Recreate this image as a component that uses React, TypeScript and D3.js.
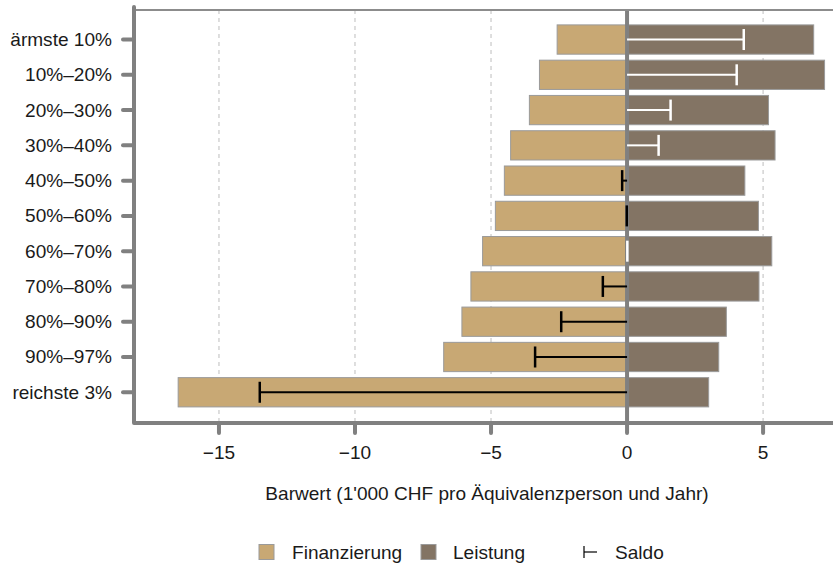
import { useEffect, useRef } from 'react';
import * as d3 from 'd3';

const categories = [
  'ärmste 10%',
  '10%–20%',
  '20%–30%',
  '30%–40%',
  '40%–50%',
  '50%–60%',
  '60%–70%',
  '70%–80%',
  '80%–90%',
  '90%–97%',
  'reichste 3%',
];
const finanzierung = [-2.57, -3.22, -3.59, -4.28, -4.51, -4.84, -5.31, -5.74, -6.07, -6.74, -16.5];
const leistung = [6.86, 7.26, 5.2, 5.44, 4.33, 4.83, 5.32, 4.85, 3.65, 3.37, 3.0];
const saldo = [4.29, 4.03, 1.6, 1.16, -0.18, -0.01, 0.01, -0.89, -2.42, -3.38, -13.5];
const xTicks = [-15, -10, -5, 0, 5];

const W = 833;
const H = 573;
const FONT = '"Liberation Sans", Arial, sans-serif';
const AXIS = '#808080';
const FIN = '#c8a874';
const LEI = '#837464';
const STRETCH = 1.06; // the original text is a bit wider than plain Arial

export default function App() {
  const svgRef = useRef<SVGSVGElement>(null);

  useEffect(() => {
    if (!svgRef.current) return;
    const svg = d3.select(svgRef.current);
    svg.selectAll('*').remove();

    const left = 134;
    const top = 10;
    const bottom = 423;

    const x = d3.scaleLinear().domain([-18.16, 7.57]).range([133, 833]);
    const y = d3
      .scaleBand<string>()
      .domain(categories)
      .range([21.9, 409.9])
      .paddingInner(0.17)
      .paddingOuter(0.085);

    const rows = categories.map((c, i) => ({
      cat: c,
      fin: finanzierung[i],
      lei: leistung[i],
      saldo: saldo[i],
    }));

    const label = (
      parent: d3.Selection<any, unknown, null, undefined>,
      tx: number,
      ty: number,
      anchor: string,
      txt: string
    ) =>
      parent
        .append('text')
        .attr('transform', `translate(${tx},${ty}) scale(${STRETCH},1)`)
        .attr('text-anchor', anchor)
        .attr('font-family', FONT)
        .attr('font-size', '18px')
        .attr('fill', '#1a1a1a')
        .text(txt);

    // dashed grid
    svg
      .append('g')
      .selectAll('line')
      .data(xTicks.filter((t) => t !== 0))
      .join('line')
      .attr('x1', (d) => x(d))
      .attr('x2', (d) => x(d))
      .attr('y1', top)
      .attr('y2', bottom)
      .attr('stroke', '#bdbdbd')
      .attr('stroke-width', 1)
      .attr('stroke-dasharray', '4,4');

    // bars
    const bw = y.bandwidth();
    svg
      .append('g')
      .selectAll('rect')
      .data(rows)
      .join('rect')
      .attr('x', (d) => x(d.fin))
      .attr('y', (d) => y(d.cat)!)
      .attr('width', (d) => x(0) - x(d.fin))
      .attr('height', bw)
      .attr('fill', FIN)
      .attr('stroke', '#9a9a9a')
      .attr('stroke-width', 1);

    svg
      .append('g')
      .selectAll('rect')
      .data(rows)
      .join('rect')
      .attr('x', x(0))
      .attr('y', (d) => y(d.cat)!)
      .attr('width', (d) => x(d.lei) - x(0))
      .attr('height', bw)
      .attr('fill', LEI)
      .attr('stroke', '#9a9a9a')
      .attr('stroke-width', 1);

    // zero line
    svg
      .append('line')
      .attr('x1', x(0))
      .attr('x2', x(0))
      .attr('y1', top)
      .attr('y2', bottom)
      .attr('stroke', AXIS)
      .attr('stroke-width', 4);

    // saldo whiskers
    const sal = svg.append('g');
    rows.forEach((d) => {
      const col = d.saldo > 0 ? '#ffffff' : '#000000';
      const cy = y(d.cat)! + bw / 2;
      sal
        .append('line')
        .attr('x1', x(0))
        .attr('x2', x(d.saldo))
        .attr('y1', cy)
        .attr('y2', cy)
        .attr('stroke', col)
        .attr('stroke-width', 2);
      sal
        .append('line')
        .attr('x1', x(d.saldo))
        .attr('x2', x(d.saldo))
        .attr('y1', cy - 10.5)
        .attr('y2', cy + 10.5)
        .attr('stroke', col)
        .attr('stroke-width', 2.5);
    });

    // frame: top line, left axis, bottom axis
    svg
      .append('line')
      .attr('x1', left)
      .attr('x2', W)
      .attr('y1', top)
      .attr('y2', top)
      .attr('stroke', '#8c8c8c')
      .attr('stroke-width', 2);

    svg
      .append('path')
      .attr('d', `M${left},7 V${bottom} H${W + 5}`)
      .attr('fill', 'none')
      .attr('stroke', AXIS)
      .attr('stroke-width', 4)
      .attr('stroke-linecap', 'round')
      .attr('stroke-linejoin', 'round');

    // y ticks + labels
    const yAx = svg.append('g');
    categories.forEach((c) => {
      const cy = y(c)! + bw / 2;
      yAx
        .append('line')
        .attr('x1', 123)
        .attr('x2', left)
        .attr('y1', cy)
        .attr('y2', cy)
        .attr('stroke', AXIS)
        .attr('stroke-width', 4)
        .attr('stroke-linecap', 'round');
      label(yAx, 112, cy + 6.5, 'end', c);
    });

    // x ticks + labels
    const xAx = svg.append('g');
    xTicks.forEach((t) => {
      xAx
        .append('line')
        .attr('x1', x(t))
        .attr('x2', x(t))
        .attr('y1', bottom)
        .attr('y2', 433)
        .attr('stroke', AXIS)
        .attr('stroke-width', 4)
        .attr('stroke-linecap', 'round');
      label(xAx, x(t), 459, 'middle', t < 0 ? `\u2212${Math.abs(t)}` : `${t}`);
    });

    label(svg, 487, 500, 'middle', "Barwert (1'000 CHF pro Äquivalenzperson und Jahr)");

    // legend
    const lg = svg.append('g');
    const ly = 552;
    [
      { name: 'Finanzierung', color: FIN, sx: 259, tx: 292 },
      { name: 'Leistung', color: LEI, sx: 421, tx: 453 },
    ].forEach((it) => {
      lg.append('rect')
        .attr('x', it.sx)
        .attr('y', ly - 7.5)
        .attr('width', 15)
        .attr('height', 15)
        .attr('fill', it.color)
        .attr('stroke', '#9a9a9a')
        .attr('stroke-width', 1);
      label(lg, it.tx, ly + 6.5, 'start', it.name);
    });
    lg.append('line')
      .attr('x1', 584)
      .attr('x2', 584)
      .attr('y1', ly - 6)
      .attr('y2', ly + 6)
      .attr('stroke', '#000')
      .attr('stroke-width', 1.2);
    lg.append('line')
      .attr('x1', 584)
      .attr('x2', 597)
      .attr('y1', ly)
      .attr('y2', ly)
      .attr('stroke', '#000')
      .attr('stroke-width', 1.2);
    label(lg, 615, ly + 6.5, 'start', 'Saldo');
  }, []);

  return (
    <svg
      ref={svgRef}
      width={W}
      height={H}
      style={{ position: 'absolute', left: 0, top: 0, background: '#fff' }}
    />
  );
}
